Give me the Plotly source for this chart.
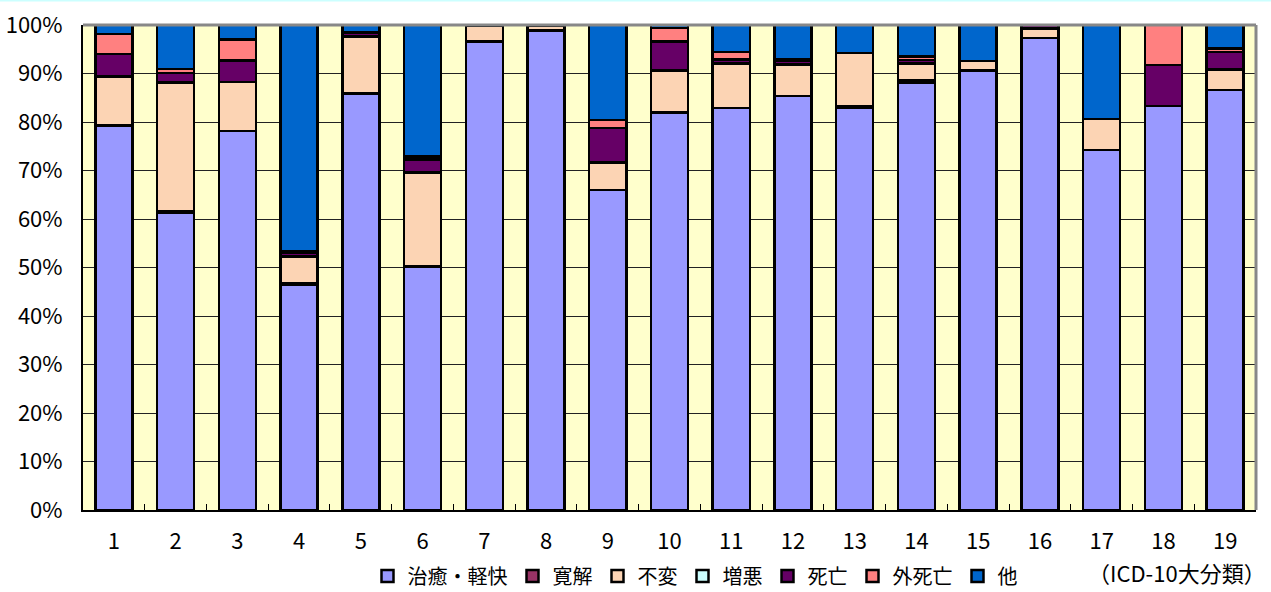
import plotly.graph_objects as go

# ICD-10 chapter numbers
categories = [str(i) for i in range(1, 20)]

# Share of discharge outcomes per chapter (%)
chiyu_keikai = [79.3, 61.3, 78.1, 46.5, 85.9, 50.1, 96.6, 98.9, 66.0, 82.0, 82.9, 85.4, 83.0, 88.1, 90.6, 97.3, 74.2, 83.3, 86.6]
kankai       = [0.0, 0.4, 0.0, 0.3, 0.0, 0.1, 0.0, 0.0, 0.0, 0.0, 0.0, 0.0, 0.3, 0.6, 0.0, 0.0, 0.0, 0.0, 0.0]
fuhen        = [10.1, 26.4, 10.2, 5.5, 11.7, 19.4, 3.2, 0.9, 5.7, 8.6, 9.2, 6.5, 10.9, 3.4, 2.0, 2.0, 6.4, 0.0, 4.2]
zouaku       = [0.0] * 19
shibou       = [4.6, 2.0, 4.4, 0.8, 0.8, 2.7, 0.1, 0.0, 7.1, 6.0, 0.8, 0.7, 0.0, 0.7, 0.0, 0.7, 0.0, 8.5, 3.6]
gai_shibou   = [4.1, 0.8, 4.3, 0.3, 0.2, 0.6, 0.0, 0.0, 1.6, 2.8, 1.5, 0.4, 0.0, 0.7, 0.0, 0.0, 0.0, 8.2, 0.8]
sonota       = [1.9, 9.1, 3.0, 46.6, 1.4, 27.1, 0.1, 0.2, 19.6, 0.6, 5.6, 7.0, 5.8, 6.5, 7.4, 0.0, 19.4, 0.0, 4.8]

series_names = ["治癒・軽快", "寛解", "不変", "増悪", "死亡", "外死亡", "他"]
series_values = [chiyu_keikai, kankai, fuhen, zouaku, shibou, gai_shibou, sonota]
series_colors = ["#9999FF", "#993366", "#FCD4B4", "#CCFFFF", "#660066", "#FF8080", "#0066CC"]

FONT = "Noto Sans CJK JP"

fig = go.Figure()
for name, vals, col in zip(series_names, series_values, series_colors):
    fig.add_trace(go.Bar(
        x=categories, y=vals, name=name,
        marker=dict(color=col, line=dict(color="black", width=2.5)),
    ))

W, H = 1271, 592
ml, mr, mt, mb = 83, 15, 25, 82
pw, ph = W - ml - mr, H - mt - mb

fig.update_layout(
    width=W, height=H,
    margin=dict(l=ml, r=mr, t=mt, b=mb, autoexpand=False),
    barmode="stack", bargap=0.4,
    plot_bgcolor="#FFFFCC", paper_bgcolor="white",
    font=dict(family=FONT, size=22, color="black"),
    showlegend=True,
    legend=dict(
        orientation="h", traceorder="normal",
        x=(695 - ml) / pw, xanchor="center",
        y=-(576 - (H - mb)) / ph, yanchor="middle",
        font=dict(family=FONT, size=20), itemwidth=30,
        bgcolor="rgba(0,0,0,0)",
    ),
    xaxis=dict(
        type="category", tickson="boundaries", ticks="inside", ticklen=6,
        tickcolor="black", tickwidth=1, showline=True, linecolor="black",
        linewidth=2, showgrid=False, ticklabelstandoff=11,
        tickfont=dict(family=FONT, size=22),
    ),
    yaxis=dict(
        range=[0, 100], dtick=10, ticksuffix="%", showgrid=True,
        gridcolor="#222222", gridwidth=1, showline=True, linecolor="black",
        linewidth=2, zeroline=False, ticks="", ticklabelstandoff=14,
        tickfont=dict(family=FONT, size=22),
    ),
    annotations=[dict(
        text="（ICD-10大分類）", xref="paper", yref="paper",
        x=1 + 12 / pw, xanchor="right", y=-(572 - (H - mb)) / ph, yanchor="middle",
        showarrow=False, font=dict(family=FONT, size=22),
    )],
    shapes=[
        # grey frame on top and right of the plot area
        dict(type="line", xref="paper", yref="paper", x0=0, x1=1, y0=1, y1=1,
             line=dict(color="#888888", width=3)),
        dict(type="line", xref="paper", yref="paper", x0=1, x1=1, y0=0, y1=1,
             line=dict(color="#888888", width=3)),
        # thin cyan rule along the page top
        dict(type="line", xref="paper", yref="paper",
             x0=-ml / pw, x1=1 + mr / pw, y0=1 + mt / ph, y1=1 + mt / ph,
             line=dict(color="#CCFFFF", width=3)),
    ],
)

fig.write_html("out.html")
